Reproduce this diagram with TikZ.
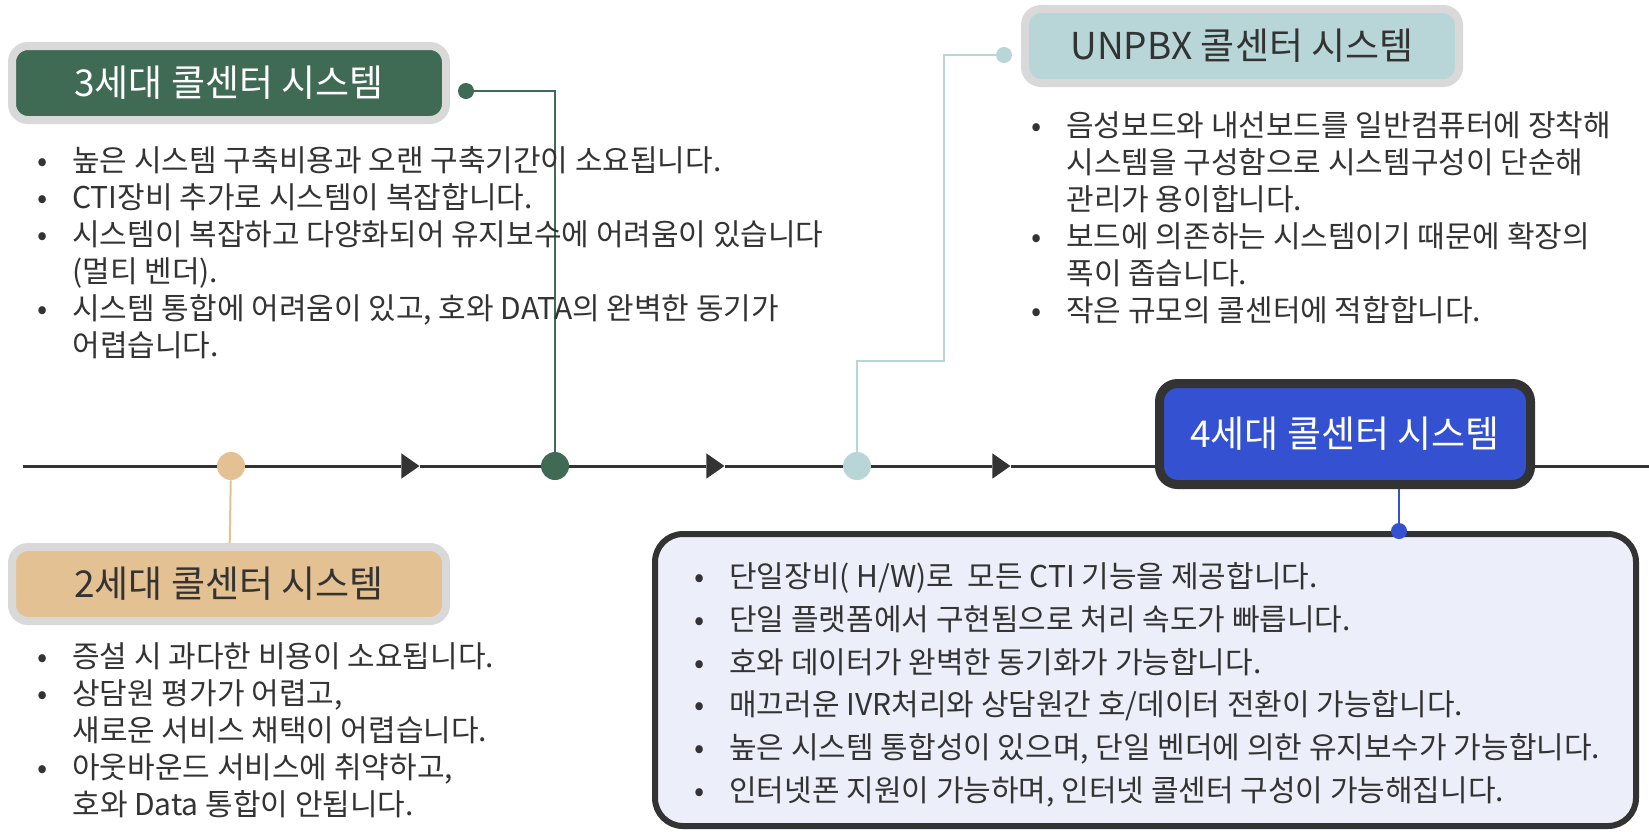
\documentclass[tikz,border=0pt]{standalone}
\usepackage{fontspec}
\setmainfont{Noto Sans CJK KR}
\usetikzlibrary{shapes,arrows,calc,positioning}
\usetikzlibrary{backgrounds}
\definecolor{darkline}{RGB}{51,51,51}
\definecolor{framegray}{RGB}{217,217,217}
\definecolor{tan}{RGB}{227,193,146}
\definecolor{forest}{RGB}{63,107,85}
\definecolor{ice}{RGB}{184,214,216}
\definecolor{royal}{RGB}{51,81,209}
\definecolor{lavender}{RGB}{236,238,249}
\newcommand{\bitem}{\makebox[17.5pt][l]{•}}
\newcommand{\bcont}{\hspace*{17.5pt}}
\tikzstyle{title} = [draw=framegray, line width=4pt, rounded corners=8pt, inner sep=0pt, minimum width=217pt, minimum height=37pt, font=\fontsize{18.5}{22}\selectfont]
\tikzstyle{dot} = [circle, inner sep=0pt, minimum size=14pt]
\tikzstyle{pin} = [circle, inner sep=0pt, minimum size=8pt]
\tikzstyle{tip} = [isosceles triangle, isosceles triangle apex angle=70, fill=darkline, inner sep=0pt, minimum height=9pt]
\tikzstyle{bullets} = [align=left, inner sep=0pt, anchor=north west, text=darkline, font=\fontsize{15}{18.5}\selectfont]
\tikzstyle{line} = [draw, line width=1.5pt, darkline]
\tikzstyle{link} = [draw, line width=1pt]

\begin{document}
\begin{tikzpicture}[x=0.5pt, y=-0.5pt]
	\useasboundingbox (0,0) rectangle (1649,832);
	\coordinate (start) at (23,466);
	\coordinate (end) at (1649,466);
	\node [dot, fill=tan] (c2) at (231,466) {};
	\node [dot, fill=forest] (c3) at (555,466) {};
	\node [dot, fill=ice] (cu) at (857,466) {};
	\node [tip] (a1) at (408,466) {};
	\node [tip] (a2) at (713,466) {};
	\node [tip] (a3) at (999,466) {};
	\begin{pgfonlayer}{background}
		\path [line] (start) -- (c2) -- (a1) -- (c3) -- (a2) -- (cu) -- (a3) -- (end);
	\end{pgfonlayer}

	% 2세대
	\node [title, fill=tan, text=darkline] (g2) at (229,584) {2세대 콜센터 시스템};
	\path [link, tan] (c2) -- (g2);
	\node [bullets] (t2) at (37,642) {\bitem 증설 시 과다한 비용이 소요됩니다.\\
		\bitem 상담원 평가가 어렵고,\\
		\bcont 새로운 서비스 채택이 어렵습니다.\\
		\bitem 아웃바운드 서비스에 취약하고,\\
		\bcont 호와 Data 통합이 안됩니다.};

	% 3세대
	\node [title, fill=forest, text=white] (g3) at (229,83) {3세대 콜센터 시스템};
	\node [pin, fill=forest] (d3) at (466,91) {};
	\path [link, forest] (d3) -- (d3 -| c3) -- (c3);
	\node [bullets] (t3) at (37,146) {\bitem 높은 시스템 구축비용과 오랜 구축기간이 소요됩니다.\\
		\bitem CTI장비 추가로 시스템이 복잡합니다.\\
		\bitem 시스템이 복잡하고 다양화되어 유지보수에 어려움이 있습니다\\
		\bcont (멀티 벤더).\\
		\bitem 시스템 통합에 어려움이 있고, 호와 DATA의 완벽한 동기가\\
		\bcont 어렵습니다.};

	% UNPBX
	\node [title, fill=ice, text=darkline] (gu) at (1242,46) {UNPBX 콜센터 시스템};
	\node [pin, fill=ice] (du) at (1004,55) {};
	\coordinate (bend) at (944,361);
	\path [link, ice] (du) -- (du -| bend) -- (bend) -- (bend -| cu) -- (cu);
	\node [bullets] (tu) at (1031,111) {\bitem 음성보드와 내선보드를 일반컴퓨터에 장착해\\
		\bcont 시스템을 구성함으로 시스템구성이 단순해\\
		\bcont 관리가 용이합니다.\\
		\bitem 보드에 의존하는 시스템이기 때문에 확장의\\
		\bcont 폭이 좁습니다.\\
		\bitem 작은 규모의 콜센터에 적합합니다.};

	% 4세대
	\node [draw=darkline, fill=royal, text=white, line width=4.5pt, rounded corners=9pt, minimum width=185.5pt, minimum height=50.5pt, font=\fontsize{18.5}{22}\selectfont] (g4) at (1345,434) {4세대 콜센터 시스템};
	\node [draw=darkline, fill=lavender, line width=3pt, rounded corners=14pt, minimum width=490.5pt, minimum height=146pt] (box4) at (1145.5,680) {};
	\node [pin, fill=royal] (d4) at (1399,531) {};
	\path [link, royal] (d4) -- (d4 |- g4.south);
	\node [bullets, font=\fontsize{15}{21.4}\selectfont] (t4) at (694,562) {\bitem 단일장비( H/W)로 \ 모든 CTI 기능을 제공합니다.\\
		\bitem 단일 플랫폼에서 구현됨으로 처리 속도가 빠릅니다.\\
		\bitem 호와 데이터가 완벽한 동기화가 가능합니다.\\
		\bitem 매끄러운 IVR처리와 상담원간 호/데이터 전환이 가능합니다.\\
		\bitem 높은 시스템 통합성이 있으며, 단일 벤더에 의한 유지보수가 가능합니다.\\
		\bitem 인터넷폰 지원이 가능하며, 인터넷 콜센터 구성이 가능해집니다.};
\end{tikzpicture}
\end{document}
